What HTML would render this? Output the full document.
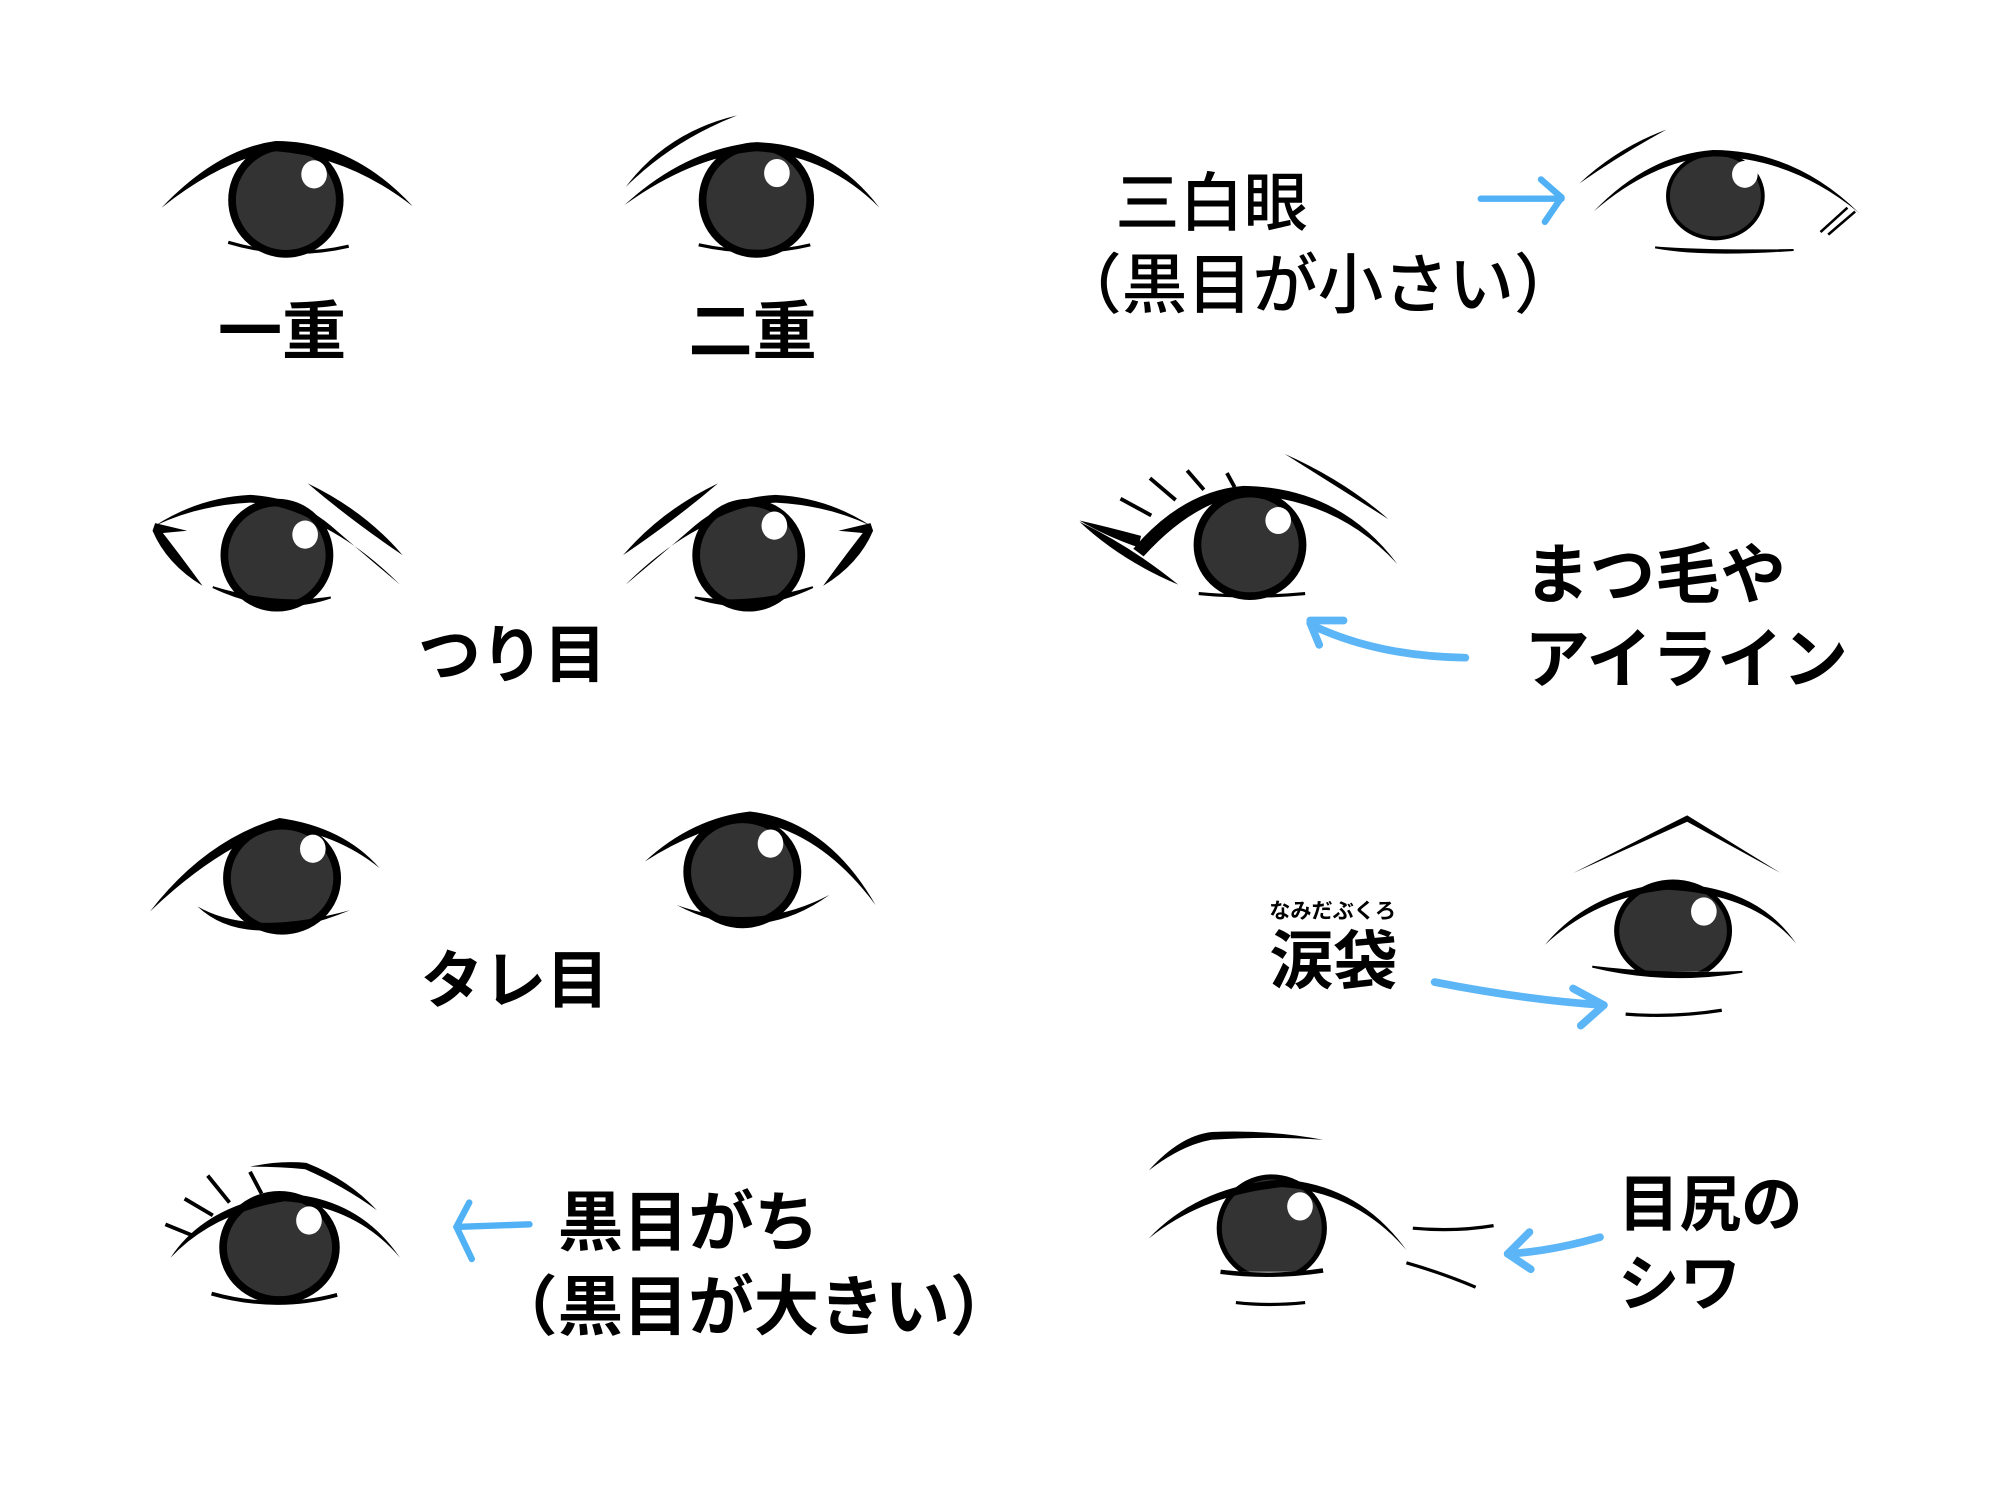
<!DOCTYPE html>
<html lang="ja">
<head>
<meta charset="utf-8">
<style>
  html,body{margin:0;padding:0;background:#fff;}
  svg{display:block;}
  text{font-family:"Liberation Sans","Noto Sans CJK JP",sans-serif;fill:#000;}
</style>
</head>
<body>
<svg xmlns="http://www.w3.org/2000/svg" width="2000" height="1500" viewBox="0 0 1560 1170">
  <defs>
    <clipPath id="clipI"><rect x="1200" y="600" width="250" height="158"/></clipPath>
    <clipPath id="clipK"><rect x="900" y="880" width="200" height="112"/></clipPath>
  </defs>
  <rect width="1560" height="1170" fill="#fff"/>

  <!-- ===== Eye A 一重 ===== -->
  <g>
    <ellipse cx="223" cy="156" rx="42" ry="42" fill="#333" stroke="#000" stroke-width="6"/>
    <ellipse cx="245" cy="136" rx="10" ry="11" fill="#fff"/>
    <path d="M126,162 Q170,116 215,110 Q275,110 322,161 Q272,122 215,118 Q174,124 126,162Z" fill="#000"/>
    <path d="M178,189 Q225,203 272,192" fill="none" stroke="#000" stroke-width="2.5"/>
  </g>
  <text x="170" y="276" font-size="50" font-weight="700">一重</text>

  <!-- ===== Eye B 二重 ===== -->
  <g>
    <ellipse cx="590" cy="156" rx="42" ry="42" fill="#333" stroke="#000" stroke-width="6"/>
    <ellipse cx="606" cy="135" rx="10" ry="11" fill="#fff"/>
    <path d="M487,160 Q535,116 590,111 Q648,112 686,162 Q645,121 590,118 Q540,122 487,160Z" fill="#000"/>
    <path d="M488,146 Q520,103 575,90 Q524,110 488,146Z" fill="#000"/>
    <path d="M545,191 Q590,201 632,191" fill="none" stroke="#000" stroke-width="2.5"/>
  </g>
  <text x="537" y="276" font-size="50" font-weight="700">二重</text>

  <!-- ===== 三白眼 ===== -->
  <text x="870" y="176" font-size="50" font-weight="500">三白眼</text>
  <text x="824" y="240" font-size="51" font-weight="500">（黒目が小さい）</text>
  <g fill="none" stroke="#3fa9f5" stroke-width="5" stroke-linecap="round" stroke-linejoin="round" opacity="0.9">
    <path d="M1155,155 L1218,155"/>
    <path d="M1202,140 L1218,154 L1205,173"/>
  </g>
  <g>
    <ellipse cx="1338" cy="153" rx="37" ry="33" fill="#333" stroke="#000" stroke-width="3"/>
    <ellipse cx="1361" cy="136" rx="10" ry="10.5" fill="#fff"/>
    <path d="M1243,165 Q1285,121 1336,117 Q1400,117 1450,166 Q1398,123 1336,122 Q1288,126 1243,165Z" fill="#000"/>
    <path d="M1232,143 Q1262,115 1300,101 Q1265,120 1232,143Z" fill="#000"/>
    <path d="M1291,193 Q1330,200 1399,195 Q1330,196 1291,193Z" fill="#000" stroke="#000" stroke-width="1.5"/>
    <path d="M1420,181 L1441,162 M1426,183 L1447,165" stroke="#000" stroke-width="2"/>
  </g>

  <!-- ===== Eye D つり目 left ===== -->
  <g id="eyeD">
    <ellipse cx="216" cy="433" rx="41" ry="41" fill="#333" stroke="#000" stroke-width="6"/>
    <path d="M121,410 Q155,388 195,386 Q232,388 258,410 Q288,436 312,456 Q284,428 254,412 Q228,394 195,392 Q155,394 121,410Z" fill="#000"/>
    <path d="M121,408 L146,414 L124,416Z" fill="#000"/>
    <path d="M121,408 Q140,432 158,457 Q130,440 119,414Z" fill="#000"/>
    <path d="M240,377 Q284,398 314,433 Q274,406 240,377Z" fill="#000"/>
    <path d="M166,458 Q215,481 258,466 Q215,473 166,458Z" fill="#000" stroke="#000" stroke-width="1.5"/>
  </g>
  <ellipse cx="238" cy="417" rx="10" ry="11" fill="#fff"/>

  <!-- ===== Eye E つり目 right (mirror) ===== -->
  <g transform="translate(800,0) scale(-1,1)">
    <ellipse cx="216" cy="433" rx="41" ry="41" fill="#333" stroke="#000" stroke-width="6"/>
    <path d="M121,410 Q155,388 195,386 Q232,388 258,410 Q288,436 312,456 Q284,428 254,412 Q228,394 195,392 Q155,394 121,410Z" fill="#000"/>
    <path d="M121,408 L146,414 L124,416Z" fill="#000"/>
    <path d="M121,408 Q140,432 158,457 Q130,440 119,414Z" fill="#000"/>
    <path d="M240,377 Q284,398 314,433 Q274,406 240,377Z" fill="#000"/>
    <path d="M166,458 Q215,481 258,466 Q215,473 166,458Z" fill="#000" stroke="#000" stroke-width="1.5"/>
  </g>
  <ellipse cx="604" cy="410" rx="10" ry="11" fill="#fff"/>
  <text x="326" y="528" font-size="49" font-weight="700">つり目</text>

  <!-- ===== Eye F まつ毛/アイライン ===== -->
  <g>
    <ellipse cx="975" cy="425" rx="41" ry="40" fill="#333" stroke="#000" stroke-width="6"/>
    <ellipse cx="997" cy="406" rx="10" ry="10.5" fill="#fff"/>
    <path d="M884,428 Q922,383 970,379 Q1045,380 1090,440 Q1042,388 970,386 Q930,392 892,434Z" fill="#000"/>
    <path d="M842,407 Q882,426 919,456 Q874,437 842,407Z" fill="#000"/>
    <path d="M842,406 Q864,411 890,418 L888,427 Q862,418 842,406Z" fill="#000"/>
    <path d="M874,389 L898,402 M897,373 L917,390 M926,367 L939,382 M957,369 L963,380" stroke="#000" stroke-width="3"/>
    <path d="M1002,354 Q1049,375 1083,405 Q1045,381 1002,354Z" fill="#000"/>
    <path d="M935,463 Q976,467 1018,463" fill="none" stroke="#000" stroke-width="2.5"/>
  </g>
  <g fill="none" stroke="#3fa9f5" stroke-width="6" stroke-linecap="round" stroke-linejoin="round" opacity="0.85">
    <path d="M1143,513 Q1075,512 1024,488"/>
    <path d="M1022,484 L1048,484"/>
    <path d="M1022,486 L1029,503"/>
  </g>
  <text x="1189" y="466" font-size="51" font-weight="700">まつ毛や</text>
  <text x="1189" y="532" font-size="51" font-weight="700">アイライン</text>

  <!-- ===== Eye G タレ目 left ===== -->
  <g>
    <ellipse cx="220" cy="685" rx="43" ry="41" fill="#333" stroke="#000" stroke-width="6"/>
    <ellipse cx="244" cy="662" rx="10" ry="11" fill="#fff"/>
    <path d="M117,711 Q160,655 218,638 Q268,645 296,677 Q262,650 218,645 Q168,662 117,711Z" fill="#000"/>
    <path d="M154,707 Q192,743 273,710 Q195,731 154,707Z" fill="#000"/>
  </g>
  <!-- ===== Eye H タレ目 right ===== -->
  <g>
    <ellipse cx="579" cy="680" rx="43" ry="41" fill="#333" stroke="#000" stroke-width="6"/>
    <ellipse cx="601" cy="658" rx="10" ry="11" fill="#fff"/>
    <path d="M503,672 Q540,638 585,633 Q645,640 683,706 Q640,648 585,640 Q545,645 503,672Z" fill="#000"/>
    <path d="M528,706 Q590,739 647,698 Q590,728 528,706Z" fill="#000"/>
  </g>
  <text x="328" y="782" font-size="49" font-weight="700">タレ目</text>

  <!-- ===== Eye I 涙袋 ===== -->
  <g>
    <g clip-path="url(#clipI)">
      <ellipse cx="1305" cy="726" rx="44" ry="38" fill="#333" stroke="#000" stroke-width="4"/>
    </g>
    <ellipse cx="1329" cy="711" rx="10" ry="11" fill="#fff"/>
    <path d="M1227,681 L1316,636 L1389,681 L1316,641Z" fill="#000"/>
    <path d="M1205,737 Q1240,695 1300,689 Q1370,690 1401,736 Q1368,697 1300,694 Q1245,700 1205,737Z" fill="#000"/>
    <path d="M1242,754 Q1300,768 1359,758 Q1300,761 1242,754Z" fill="#000" stroke="#000" stroke-width="1.5"/>
    <path d="M1268,791 Q1305,794 1343,788" fill="none" stroke="#000" stroke-width="2.5"/>
  </g>
  <text x="990" y="716" font-size="16.5" font-weight="700">なみだぶくろ</text>
  <text x="990" y="767" font-size="50" font-weight="700">涙袋</text>
  <g fill="none" stroke="#3fa9f5" stroke-width="6" stroke-linecap="round" stroke-linejoin="round" opacity="0.85">
    <path d="M1119,766 Q1190,780 1251,784"/>
    <path d="M1227,771 L1251,784 L1233,800"/>
  </g>

  <!-- ===== Eye J 黒目がち ===== -->
  <g>
    <ellipse cx="218" cy="973" rx="44" ry="41" fill="#333" stroke="#000" stroke-width="6"/>
    <ellipse cx="241" cy="952" rx="10" ry="11" fill="#fff"/>
    <path d="M133,981 Q160,940 222,931 Q280,934 312,981 Q278,941 222,937 Q166,946 133,981Z" fill="#000"/>
    <path d="M195,910 Q218,905 239,907 Q272,920 294,944 Q268,925 238,912 Q218,910 195,910Z" fill="#000"/>
    <path d="M129,955 L151,964 M144,935 L166,948 M162,917 L179,938 M195,914 L204,931" stroke="#000" stroke-width="3"/>
    <path d="M165,1009 Q215,1023 263,1010" fill="none" stroke="#000" stroke-width="3"/>
  </g>
  <g fill="none" stroke="#3fa9f5" stroke-width="5" stroke-linecap="round" stroke-linejoin="round" opacity="0.9">
    <path d="M413,955 L356,957"/>
    <path d="M366,938 L356,957 L368,982"/>
  </g>
  <text x="435" y="971" font-size="51" font-weight="700">黒目がち</text>
  <text x="384" y="1037" font-size="51" font-weight="700">（黒目が大きい）</text>

  <!-- ===== Eye K 目尻のシワ ===== -->
  <g>
    <g clip-path="url(#clipK)">
      <ellipse cx="992" cy="958" rx="41" ry="40" fill="#333" stroke="#000" stroke-width="4"/>
    </g>
    <ellipse cx="1014" cy="941" rx="10" ry="11" fill="#fff"/>
    <path d="M896,913 Q920,886 945,883 Q990,881 1032,889 Q990,886 945,889 Q922,893 896,913Z" fill="#000"/>
    <path d="M896,966 Q935,925 1000,920 Q1060,924 1097,975 Q1058,930 1000,926 Q938,932 896,966Z" fill="#000"/>
    <path d="M952,992 Q992,997 1032,991" fill="none" stroke="#000" stroke-width="3.5"/>
    <path d="M964,1016 Q990,1019 1018,1016" fill="none" stroke="#000" stroke-width="2.5"/>
    <path d="M1102,958 Q1135,961 1165,956" fill="none" stroke="#000" stroke-width="2.5"/>
    <path d="M1097,985 Q1125,993 1151,1004" fill="none" stroke="#000" stroke-width="2.5"/>
  </g>
  <g fill="none" stroke="#3fa9f5" stroke-width="6" stroke-linecap="round" stroke-linejoin="round" opacity="0.85">
    <path d="M1248,965 Q1210,976 1176,978"/>
    <path d="M1193,961 L1176,978 L1194,990"/>
  </g>
  <text x="1262" y="956" font-size="48" font-weight="700">目尻の</text>
  <text x="1262" y="1018" font-size="48" font-weight="700">シワ</text>
</svg>
</body>
</html>
